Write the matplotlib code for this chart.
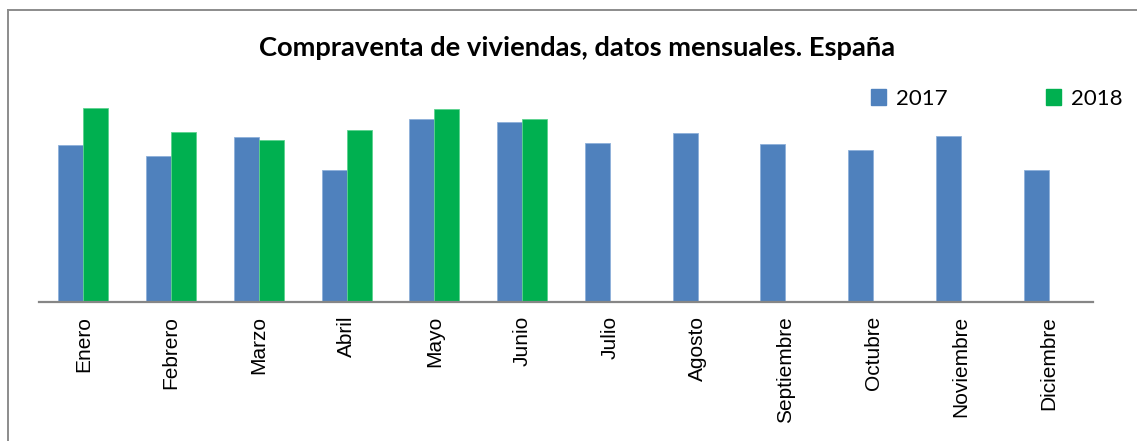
import matplotlib
matplotlib.use("Agg")
import matplotlib.pyplot as plt
import numpy as np
from matplotlib.lines import Line2D
from matplotlib.patches import Patch

meses = ["Enero", "Febrero", "Marzo", "Abril", "Mayo", "Junio", "Julio",
         "Agosto", "Septiembre", "Octubre", "Noviembre", "Diciembre"]
ventas_2017 = [36900, 34300, 38800, 31000, 43000, 42300, 37400,
               39700, 37100, 35700, 39000, 31000]
ventas_2018 = [45600, 40000, 38100, 40400, 45400, 43000]
series_names = ["2017", "2018"]

BLUE = "#4F81BD"
GREEN = "#00B050"

fig = plt.figure(figsize=(11.37, 4.41), dpi=100)
ax = fig.add_axes([39.4 / 1137, 1 - 302 / 441, (1092.6 - 39.4) / 1137, (302 - 98) / 441])

x = np.arange(len(meses))
w = 0.285
ax.bar(x[:len(ventas_2017)] - w / 2, ventas_2017, width=w, color=BLUE,
       edgecolor="#8EB0DA", linewidth=0.6)
ax.bar(x[:len(ventas_2018)] + w / 2, ventas_2018, width=w, color=GREEN,
       edgecolor="#5CD38E", linewidth=0.6)

ax.set_xlim(-0.5, len(meses) - 0.5)
ax.set_ylim(0, 48000)
ax.set_yticks([])
for s in ["top", "right", "left"]:
    ax.spines[s].set_visible(False)
ax.spines["bottom"].set_color("#868686")
ax.spines["bottom"].set_linewidth(1.6)
ax.set_xticks(x)
ax.set_xticklabels(meses, rotation=90, fontsize=15, family="Liberation Sans",
                   va="top", ha="center")
ax.tick_params(axis="x", length=0, pad=10)

fig.text(577 / 1137, 1 - 48 / 441, "Compraventa de viviendas, datos mensuales. España",
         ha="center", va="center", fontsize=19.7, fontweight="bold", family="Lato")

handles = [Patch(facecolor=BLUE, edgecolor=BLUE), Patch(facecolor=GREEN, edgecolor=GREEN)]
fig.legend(handles, series_names, loc="center", bbox_to_anchor=(997 / 1137, 1 - 99 / 441),
           ncol=2, frameon=False, prop={"family": "Lato", "size": 16},
           handlelength=0.7, handleheight=0.7, handletextpad=0.45, columnspacing=4.4)

# outer chart frame (top and left edges visible)
fig.add_artist(Line2D([8 / 1137, 1.0], [1 - 10 / 441, 1 - 10 / 441], color="#8C8C8C", lw=1.4,
                      transform=fig.transFigure))
fig.add_artist(Line2D([8 / 1137, 8 / 1137], [0.0, 1 - 10 / 441], color="#8C8C8C", lw=1.4,
                      transform=fig.transFigure))

fig.savefig("out.png", dpi=100)
